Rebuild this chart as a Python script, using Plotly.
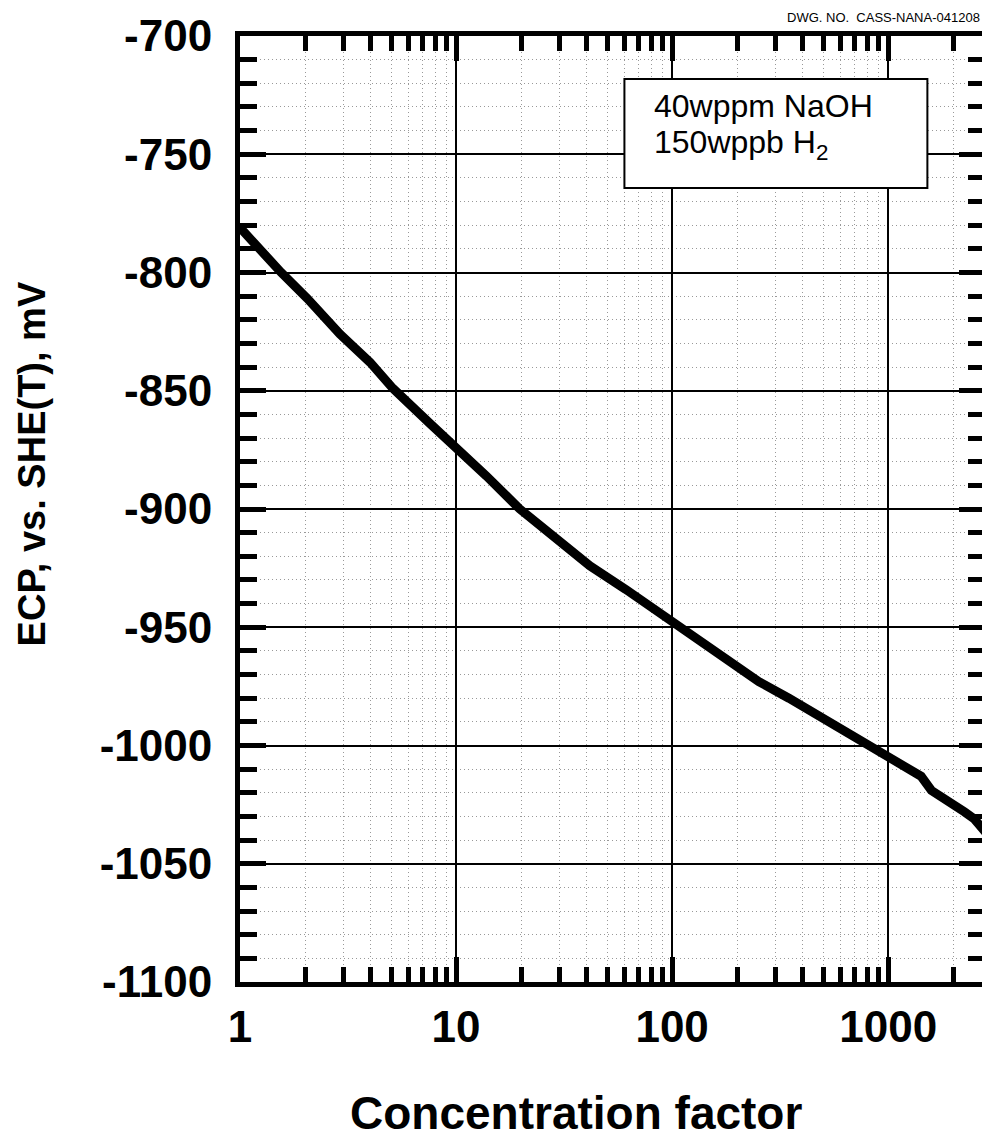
import plotly.graph_objects as go

# curve: concentration factor vs ECP (mV, SHE(T))
conc_factor = [1, 1.25, 1.55, 2.05, 2.9, 4.0, 5.1, 7.6, 10, 13.8, 19.7, 29, 41.6,
               61, 90, 100, 138, 183, 252, 347, 511, 779, 1108, 1420, 1585, 1890,
               2250, 2500, 2900]
ecp_mv = [-781, -791, -800, -811, -826, -838, -849, -864, -874, -886, -900, -912, -924,
          -934, -945, -948, -957, -964, -973, -980, -989, -999, -1007, -1013, -1019, -1023,
          -1028, -1031, -1038]

x_tickvals = [1, 10, 100, 1000]
x_ticktext = ['1', '10', '100', '1000']
y_tickvals = [-1100, -1050, -1000, -950, -900, -850, -800, -750, -700]
y_ticktext = ['-1100', '-1050', '-1000', '-950', '-900', '-850', '-800', '-750', '-700']

FONT = 'Liberation Sans, Arial, sans-serif'
bold = dict(family=FONT, size=44, color='black', weight='bold')

# page body has an 8px margin, so the figure is a bit smaller than the window
W, H = 982, 1134
L, T = 232, 28
PW, PH = 750, 946


def px(page_x):
    return (page_x - 240) / PW


def py(page_y):
    return 1 - (page_y - 36) / PH


fig = go.Figure()
fig.add_trace(
    go.Scatter(
        x=conc_factor,
        y=ecp_mv,
        mode='lines',
        line=dict(color='black', width=9),
        showlegend=False,
    )
)

fig.update_layout(
    width=W,
    height=H,
    margin=dict(l=L, r=W - L - PW, t=T, b=H - T - PH, pad=0),
    paper_bgcolor='white',
    plot_bgcolor='white',
)

minor_grid = dict(
    ticks='inside',
    tickwidth=5,
    tickcolor='black',
    showgrid=True,
    gridcolor='#999999',
    gridwidth=1,
    griddash='1px,3px',
)

fig.update_xaxes(
    type='log',
    range=[0, 3.448],
    tickmode='array',
    tickvals=x_tickvals,
    ticktext=x_ticktext,
    tickfont=bold,
    ticks='inside',
    ticklen=25,
    tickwidth=5,
    tickcolor='black',
    ticklabelstandoff=2,
    showline=True,
    linewidth=5,
    linecolor='black',
    mirror='allticks',
    showgrid=True,
    gridcolor='black',
    gridwidth=2,
    zeroline=False,
    minor=dict(dtick='D1', ticklen=15, **minor_grid),
)

fig.update_yaxes(
    range=[-1100, -700],
    tickmode='array',
    tickvals=y_tickvals,
    ticktext=y_ticktext,
    tickfont=bold,
    ticks='inside',
    ticklen=26,
    tickwidth=5,
    tickcolor='black',
    ticklabelstandoff=14,
    showline=True,
    linewidth=5,
    linecolor='black',
    mirror='allticks',
    showgrid=True,
    gridcolor='black',
    gridwidth=2,
    zeroline=False,
    minor=dict(dtick=10, ticklen=17, **minor_grid),
)

# legend-like box with the chemistry
fig.add_shape(
    type='rect',
    xref='paper', yref='paper',
    x0=px(627), x1=px(932), y0=py(188), y1=py(79),
    line=dict(color='black', width=2),
    fillcolor='white',
    layer='above',
)
box_font = dict(family=FONT, size=32, color='black')
fig.add_annotation(
    xref='paper', yref='paper', x=px(655), y=py(106),
    xanchor='left', yanchor='middle',
    text='40wppm NaOH', showarrow=False, font=box_font,
)
fig.add_annotation(
    xref='paper', yref='paper', x=px(655), y=py(145),
    xanchor='left', yanchor='middle',
    text='150wppb H<sub>2</sub>', showarrow=False, font=box_font,
)

# axis titles
fig.add_annotation(
    xref='paper', yref='paper', x=px(578), y=py(1113),
    xanchor='center', yanchor='middle',
    text='Concentration factor', showarrow=False,
    font=dict(family=FONT, size=46, color='black', weight='bold'),
)
fig.add_annotation(
    xref='paper', yref='paper', x=px(31), y=py(464),
    xanchor='center', yanchor='middle',
    text='ECP, vs. SHE(T), mV', textangle=-90, showarrow=False,
    font=dict(family=FONT, size=38, color='black', weight='bold'),
)

# drawing number
fig.add_annotation(
    xref='paper', yref='paper', x=px(987), y=py(17),
    xanchor='right', yanchor='middle',
    text='DWG. NO.  CASS-NANA-041208', showarrow=False,
    font=dict(family=FONT, size=13, color='black'),
)

fig.write_html('out.html')
